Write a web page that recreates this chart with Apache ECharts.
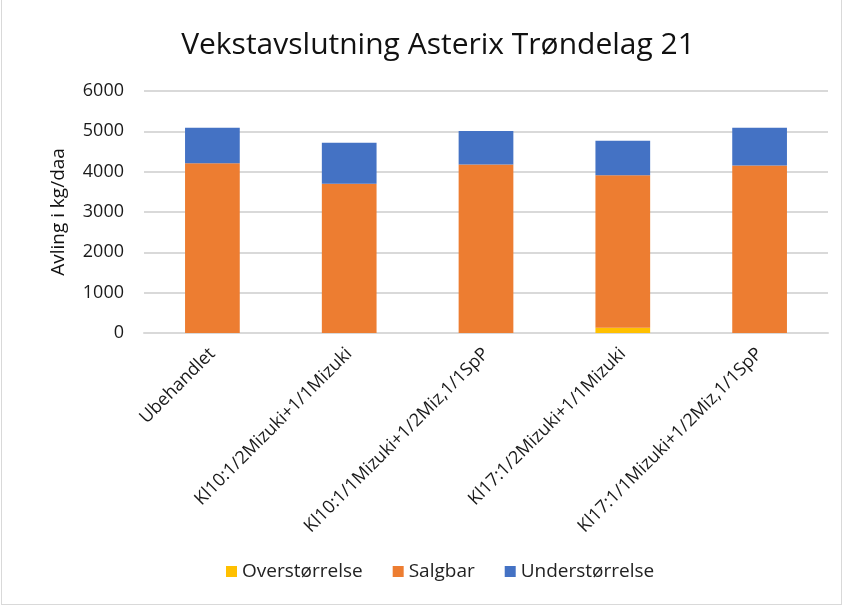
<!DOCTYPE html>
<html>
<head>
<meta charset="utf-8">
<script src="https://cdn.jsdelivr.net/npm/echarts@6/dist/echarts.min.js"></script>
<style>
  html, body { margin: 0; padding: 0; background: #fff; }
  #chartmain { width: 839px; height: 604px; border: 1px solid #d9d9d9; border-top: none; margin-left: 1px; }
</style>
</head>
<body>
<div id="chartmain"></div>
<script>
// behandlinger
var categories = ['Ubehandlet', 'Kl10:1/2Mizuki+1/1Mizuki', 'Kl10:1/1Mizuki+1/2Miz,1/1SpP', 'Kl17:1/2Mizuki+1/1Mizuki', 'Kl17:1/1Mizuki+1/2Miz,1/1SpP'];
var overstorrelse = [0, 0, 0, 130, 0];
var salgbar = [4210, 3700, 4180, 3780, 4155];
var understorrelse = [880, 1020, 830, 855, 935];
var yTicks = [0, 1000, 2000, 3000, 4000, 5000, 6000];

window.onload = function () {
    var font = 'Open Sans';
    var option = {
        textStyle: { fontFamily: font },
        title: {
            text: 'Vekstavslutning Asterix Trøndelag 21',
            left: 431,
            textAlign: 'center',
            top: 25,
            textStyle: { fontFamily: font, fontSize: 30, fontWeight: 'normal', color: '#111' }
        },
        legend: {
            bottom: 18,
            left: 219,
            itemWidth: 11,
            itemHeight: 11,
            itemGap: 30,
            icon: 'rect',
            textStyle: { fontFamily: font, fontSize: 19, color: '#222' },
            data: ['Overstørrelse', 'Salgbar', 'Understørrelse']
        },
        grid: { left: 142, right: 13, top: 91, bottom: 271 },
        xAxis: {
            type: 'category',
            data: categories,
            axisTick: { show: false },
            axisLine: { lineStyle: { color: '#d9d9d9', width: 2 } },
            axisLabel: { rotate: 45, fontSize: 18, color: '#1a1a1a', margin: 18, interval: 0, fontFamily: font }
        },
        yAxis: {
            type: 'value',
            min: yTicks[0],
            max: yTicks[yTicks.length - 1],
            interval: 1000,
            name: 'Avling i kg/daa',
            nameLocation: 'middle',
            nameGap: 76,
            nameRotate: 90,
            nameTextStyle: { fontSize: 19, color: '#111', fontFamily: font },
            axisLine: { show: false },
            axisTick: { show: false },
            axisLabel: { fontSize: 18, color: '#1a1a1a', margin: 20, fontFamily: font, formatter: function (v) { return String(v); } },
            splitLine: { lineStyle: { color: '#d9d9d9', width: 2 } }
        },
        series: [
            { name: 'Overstørrelse', type: 'bar', stack: 'a', barWidth: '40%', data: overstorrelse, itemStyle: { color: '#ffc000' } },
            { name: 'Salgbar', type: 'bar', stack: 'a', barWidth: '40%', data: salgbar, itemStyle: { color: '#ed7d31' } },
            { name: 'Understørrelse', type: 'bar', stack: 'a', barWidth: '40%', data: understorrelse, itemStyle: { color: '#4472c4' } }
        ]
    };
    var myChart = echarts.init(document.getElementById('chartmain'));
    myChart.setOption(option);
};
</script>
</body>
</html>
